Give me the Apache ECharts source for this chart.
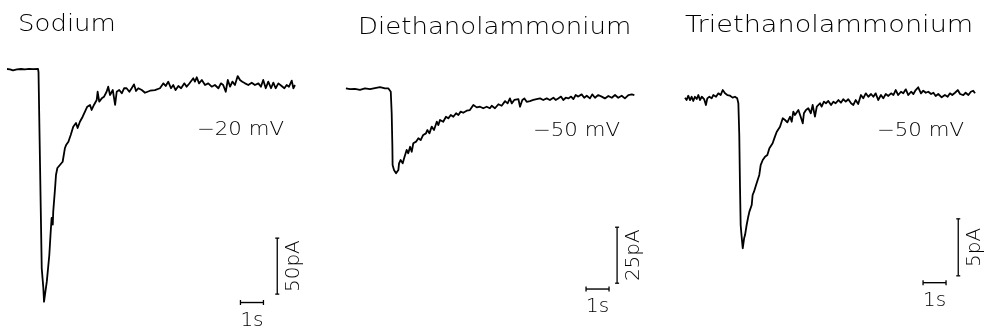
<!DOCTYPE html>
<html>
<head>
<meta charset="utf-8">
<script src="https://cdn.jsdelivr.net/npm/echarts@6/dist/echarts.min.js"></script>
<style>
  html, body { margin: 0; padding: 0; background: #fff; }
  #chart { width: 984px; height: 333px; }
</style>
</head>
<body>
<div id="chart"></div>
<script>
// Inward currents, time in s, current in pA relative to the holding baseline.
const panelTitles = ['Sodium', 'Diethanolammonium', 'Triethanolammonium'];
const holdingLabels = ['\u221220 mV', '\u221250 mV', '\u221250 mV'];

const sodiumTime = [0, 0.13, 0.26, 0.43, 0.61, 0.78, 0.96, 1.13, 1.35, 1.37, 1.51, 1.58, 1.61, 1.73, 1.84, 1.90, 1.94, 1.99, 2.01, 2.09, 2.13, 2.19, 2.30, 2.42, 2.52, 2.57, 2.67, 2.77, 2.88, 3.00, 3.07, 3.17, 3.29, 3.39, 3.49, 3.61, 3.68, 3.78, 3.90, 3.94, 4.01, 4.12, 4.22, 4.33, 4.40, 4.48, 4.60, 4.70, 4.77, 4.88, 4.99, 5.09, 5.20, 5.32, 5.42, 5.52, 5.61, 5.71, 5.86, 6.00, 6.22, 6.43, 6.65, 6.80, 6.90, 7.01, 7.13, 7.23, 7.33, 7.45, 7.57, 7.71, 7.81, 7.91, 8.10, 8.17, 8.25, 8.35, 8.47, 8.61, 8.75, 8.90, 9.04, 9.19, 9.30, 9.40, 9.51, 9.60, 9.70, 9.80, 9.91, 10.03, 10.13, 10.23, 10.35, 10.49, 10.64, 10.78, 10.93, 11.04, 11.14, 11.25, 11.36, 11.48, 11.58, 11.68, 11.80, 11.94, 12.06, 12.16, 12.26, 12.38, 12.45, 12.52];
const sodiumCurrent = [0, -0.3, -1.2, -0.4, 0, -0.4, 0.2, -0.2, 0, -2.7, -178, -195.5, -207.8, -189.9, -166.1, -145.3, -133.0, -139.0, -127.4, -106.3, -94.6, -88.4, -85.7, -82.8, -70.5, -67.9, -64.9, -58.9, -51.5, -48.2, -52.7, -47.1, -42.6, -38.1, -33.7, -32.1, -36.6, -32.1, -27.7, -20.3, -29.2, -26.2, -24.7, -20.3, -15.8, -23.2, -18.8, -32.1, -20.3, -18.8, -21.7, -17.2, -17.2, -20.3, -17.2, -13.7, -19.6, -17.2, -18.8, -21.2, -19.4, -18.8, -17.2, -12.8, -15.2, -11.3, -17.2, -14.3, -18.8, -15.2, -17.2, -12.8, -15.8, -13.4, -8.3, -11.3, -7.4, -12.8, -9.8, -14.3, -12.8, -15.8, -14.3, -17.2, -12.8, -14.3, -20.3, -9.8, -15.8, -11.3, -14.3, -6.3, -9.8, -11.3, -12.8, -14.3, -12.2, -14.3, -12.8, -15.8, -9.8, -17.2, -11.3, -17.2, -12.2, -17.2, -12.8, -15.2, -17.2, -14.3, -15.8, -10.4, -17.2, -14.3];

const deaTime = [0.04, 0.22, 0.43, 0.65, 0.87, 1.09, 1.30, 1.52, 1.74, 1.88, 1.99, 2.03, 2.06, 2.07, 2.13, 2.22, 2.27, 2.32, 2.35, 2.42, 2.51, 2.57, 2.68, 2.75, 2.83, 2.90, 2.97, 3.09, 3.19, 3.29, 3.40, 3.52, 3.58, 3.67, 3.77, 3.87, 3.99, 4.06, 4.13, 4.27, 4.39, 4.49, 4.60, 4.71, 4.83, 4.93, 5.03, 5.14, 5.29, 5.43, 5.58, 5.73, 5.87, 6.01, 6.16, 6.30, 6.38, 6.52, 6.67, 6.81, 6.96, 7.07, 7.17, 7.25, 7.36, 7.54, 7.61, 7.71, 7.80, 7.90, 8.04, 8.19, 8.33, 8.48, 8.62, 8.77, 8.91, 9.06, 9.16, 9.27, 9.39, 9.49, 9.60, 9.71, 9.83, 9.93, 10.03, 10.14, 10.29, 10.40, 10.51, 10.65, 10.75, 10.87, 11.01, 11.16, 11.30, 11.45, 11.60, 11.74, 11.88, 12.03, 12.17, 12.32, 12.47, 12.58];
const deaCurrent = [0.3, -0.1, 0.1, -0.4, 0.3, -0.1, 0.4, 0.8, 0.3, 0.3, -1.2, -10.8, -25.8, -33.9, -36.2, -37.6, -38.4, -36.2, -33.2, -31.7, -33.2, -30.9, -27.2, -28.7, -25.8, -28.0, -24.2, -23.5, -22.0, -22.8, -20.5, -19.8, -18.3, -19.8, -16.8, -18.3, -14.6, -16.1, -13.8, -14.6, -12.4, -13.1, -11.6, -12.4, -10.8, -11.6, -10.1, -10.6, -9.7, -9.4, -7.1, -8.2, -7.9, -8.6, -7.9, -8.6, -7.5, -8.6, -6.8, -7.5, -5.4, -6.4, -4.2, -6.4, -4.9, -4.5, -7.9, -4.9, -4.2, -5.7, -5.4, -4.9, -4.5, -4.2, -4.9, -4.2, -4.9, -3.9, -4.9, -4.2, -3.4, -4.9, -3.9, -4.2, -3.4, -4.5, -2.7, -3.4, -2.4, -3.9, -3.0, -4.2, -2.4, -3.9, -2.7, -3.4, -4.2, -3.1, -3.9, -2.7, -3.9, -3.0, -4.2, -2.7, -2.4, -2.7];

const teaTime = [0.00, 0.07, 0.14, 0.22, 0.29, 0.36, 0.43, 0.51, 0.58, 0.65, 0.73, 0.83, 0.91, 0.97, 1.06, 1.16, 1.23, 1.35, 1.45, 1.55, 1.64, 1.74, 1.84, 1.96, 2.07, 2.17, 2.27, 2.32, 2.36, 2.39, 2.42, 2.45, 2.51, 2.57, 2.61, 2.68, 2.75, 2.80, 2.90, 2.94, 3.00, 3.09, 3.14, 3.23, 3.29, 3.38, 3.48, 3.58, 3.67, 3.73, 3.81, 3.91, 3.99, 4.06, 4.13, 4.25, 4.35, 4.45, 4.57, 4.64, 4.71, 4.78, 4.86, 4.93, 5.03, 5.12, 5.17, 5.26, 5.36, 5.47, 5.55, 5.65, 5.73, 5.80, 5.87, 5.94, 6.04, 6.13, 6.23, 6.35, 6.45, 6.55, 6.67, 6.78, 6.88, 6.99, 7.10, 7.22, 7.32, 7.42, 7.53, 7.65, 7.75, 7.86, 7.97, 8.09, 8.19, 8.29, 8.40, 8.52, 8.62, 8.73, 8.84, 8.96, 9.06, 9.16, 9.27, 9.39, 9.49, 9.60, 9.71, 9.83, 9.93, 10.03, 10.14, 10.26, 10.36, 10.47, 10.58, 10.70, 10.80, 10.90, 11.01, 11.16, 11.30, 11.42, 11.52, 11.62, 11.74, 11.86, 11.96, 12.10, 12.20, 12.32, 12.43, 12.53, 12.61];
const teaCurrent = [0.03, -0.18, 0.20, -0.18, 0.11, -0.26, 0.11, -0.09, 0.26, -0.18, 0.11, -0.09, -0.61, -0.03, 0.11, -0.03, 0.26, 0.11, 0.41, 0.26, 0.70, 0.41, 0.26, 0.20, 0.03, 0.11, -0.03, -0.46, -3.25, -7.63, -11.14, -11.87, -13.18, -12.31, -12.02, -11.14, -10.41, -9.97, -9.39, -8.51, -8.22, -7.63, -7.78, -6.75, -5.88, -5.44, -5.15, -5.00, -4.41, -4.56, -3.97, -3.39, -2.96, -2.81, -2.52, -1.78, -1.93, -2.13, -1.64, -2.08, -1.20, -1.49, -1.34, -1.05, -1.64, -2.22, -1.34, -1.05, -0.90, -1.34, -0.61, -1.64, -0.76, -0.90, -0.46, -0.76, -0.32, -0.46, -0.26, -0.61, -0.32, -0.46, -0.18, -0.41, -0.11, -0.32, -0.11, -0.46, -0.61, -0.18, -0.53, 0.26, -0.03, 0.41, 0.11, 0.35, 0.11, 0.41, -0.18, 0.26, -0.03, 0.35, 0.18, 0.41, 0.26, 0.70, 0.26, 0.55, 0.41, 0.76, 0.26, 0.55, 0.35, 0.70, 0.94, 0.41, 0.64, 0.46, 0.55, 0.35, 0.46, 0.18, 0.35, 0.06, 0.26, 0.11, 0.41, 0.26, 0.46, 0.70, 0.35, 0.26, 0.46, 0.26, 0.55, 0.64, 0.41];

// Calibration bars: 1 s time bar and a current bar per panel.
const timeBarLength = 1;            // s
const timeBarLabel = '1s';
const timeBarStart = [10.15, 10.48, 10.35];   // s
const timeBarLevel = [-208.5, -89.3, -16.2];  // pA
const currentBarTime = [11.75, 11.83, 11.88]; // s
const currentBarBottom = [-201, -86.7, -15.6]; // pA
const currentBarSize = [50, 25, 5];           // pA
const currentBarLabels = ['50pA', '25pA', '5pA'];

const traces = [
  [sodiumTime, sodiumCurrent],
  [deaTime, deaCurrent],
  [teaTime, teaCurrent]
];

// Panel geometry: grid left edge, baseline pixel row and pixels per pA (23 px per second).
const CHART_H = 333, PX_PER_S = 23, SPAN_S = 13;
const panelLeft = [7, 345, 685];
const baseRow = [69, 89, 98];
const pxPerPA = [1.12, 2.24, 11.4];

const ink = '#000';
const FONT = '"DejaVu Sans", sans-serif';
const labelStyle = { color: ink, fontFamily: FONT, fontWeight: 200, fontSize: 20,
  textBorderWidth: 0, opacity: 1 };
const grid = [], xAxis = [], yAxis = [], series = [];

traces.forEach(function (tr, i) {
  grid.push({ left: panelLeft[i], top: 0, width: SPAN_S * PX_PER_S, height: CHART_H });
  xAxis.push({ type: 'value', gridIndex: i, min: 0, max: SPAN_S, show: false });
  yAxis.push({ type: 'value', gridIndex: i,
    min: (baseRow[i] - CHART_H) / pxPerPA[i], max: baseRow[i] / pxPerPA[i], show: false });

  series.push({
    type: 'line', xAxisIndex: i, yAxisIndex: i, showSymbol: false, silent: true,
    data: tr[0].map(function (t, k) { return [t, tr[1][k]]; }),
    lineStyle: { color: '#000', width: 1.8, join: 'round' }
  });

  // horizontal time bar
  series.push({
    type: 'line', xAxisIndex: i, yAxisIndex: i, silent: true, clip: false,
    data: [[timeBarStart[i], timeBarLevel[i]], [timeBarStart[i] + timeBarLength, timeBarLevel[i]]],
    symbol: 'rect', symbolSize: [1.3, 5], showSymbol: true,
    itemStyle: { color: '#000' }, lineStyle: { color: '#000', width: 1.4 }
  });
  // vertical current bar
  series.push({
    type: 'line', xAxisIndex: i, yAxisIndex: i, silent: true, clip: false,
    data: [[currentBarTime[i], currentBarBottom[i]], [currentBarTime[i], currentBarBottom[i] + currentBarSize[i]]],
    symbol: 'rect', symbolSize: [4, 1.3], showSymbol: true,
    itemStyle: { color: '#000' }, lineStyle: { color: '#000', width: 1.3 }
  });
  // bar labels
  series.push({
    type: 'scatter', xAxisIndex: i, yAxisIndex: i, silent: true, symbolSize: 0, clip: false,
    itemStyle: { color: '#000', opacity: 1 },
    data: [[timeBarStart[i] + timeBarLength / 2, timeBarLevel[i]]],
    label: Object.assign({ show: true, position: 'inside', offset: [0, 18], formatter: timeBarLabel }, labelStyle)
  });
  series.push({
    type: 'scatter', xAxisIndex: i, yAxisIndex: i, silent: true, symbolSize: 0, clip: false,
    itemStyle: { color: '#000', opacity: 1 },
    data: [[currentBarTime[i], currentBarBottom[i] + currentBarSize[i] / 2]],
    label: Object.assign({ show: true, position: 'inside', offset: [0, 17], rotate: 90,
      formatter: currentBarLabels[i] }, labelStyle)
  });
});

// Panel titles and holding potentials (titles are set wide, as in plotter lettering)
const titlePos = [[18, 25], [358, 28], [685, 26]];
const titleStretch = [1.13, 1.13, 1.18];
const holdPos = [[197, 130], [533, 131], [877, 131]];
const graphic = [];
panelTitles.forEach(function (txt, i) {
  graphic.push({ type: 'text', x: titlePos[i][0], y: titlePos[i][1], scaleX: titleStretch[i], silent: true,
    style: { text: txt, fill: ink, font: '200 23px ' + FONT, textAlign: 'left', textVerticalAlign: 'middle' } });
  graphic.push({ type: 'text', x: holdPos[i][0], y: holdPos[i][1], scaleX: 1.12, silent: true,
    style: { text: holdingLabels[i], fill: ink, font: '200 19px ' + FONT, textAlign: 'left', textVerticalAlign: 'middle' } });
});

const chart = echarts.init(document.getElementById('chart'), null, { renderer: 'canvas' });
chart.setOption({
  animation: false,
  backgroundColor: '#fff',
  grid: grid, xAxis: xAxis, yAxis: yAxis, series: series, graphic: graphic
});
</script>
</body>
</html>
